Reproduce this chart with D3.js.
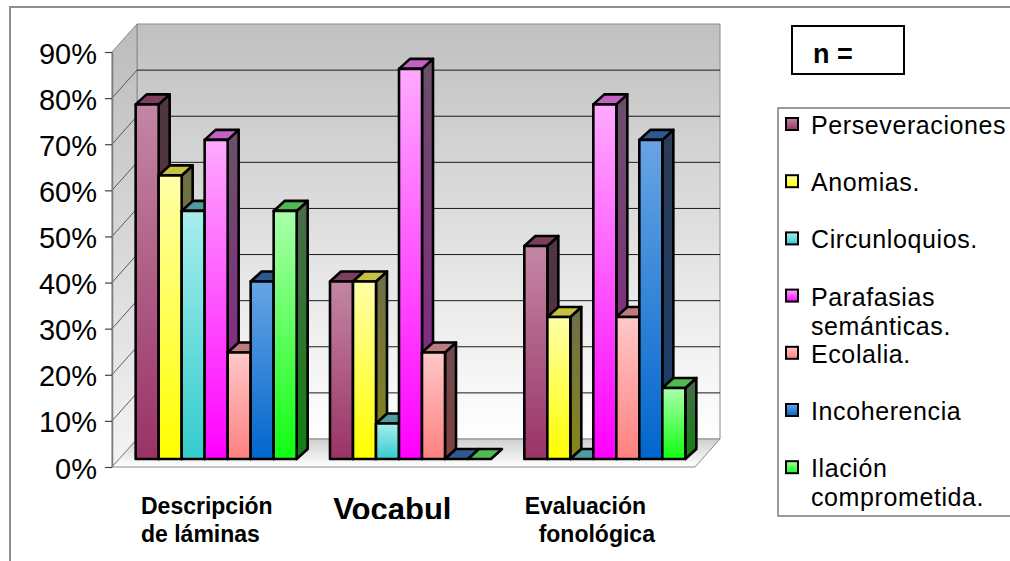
<!DOCTYPE html>
<html>
<head>
<meta charset="utf-8">
<script src="https://cdn.jsdelivr.net/npm/d3@7"></script>
<style>
  body { margin: 0; background: #ffffff; }
  svg { display: block; font-family: "Liberation Sans", Arial, sans-serif; }
</style>
</head>
<body>
<svg id="chart" width="1010" height="561"></svg>
<script>
// ---- data ----------------------------------------------------------------
const categories = ["Descripción de láminas", "Vocabul", "Evaluación fonológica"];
const categoryLines = [["Descripción", "de láminas"], ["Vocabul"], ["Evaluación", "fonológica"]];
const seriesNames = ["Perseveraciones", "Anomias.", "Circunloquios.", "Parafasias semánticas.",
                     "Ecolalia.", "Incoherencia", "Ilación comprometida."];
const legendLines = [["Perseveraciones"], ["Anomias."], ["Circunloquios."], ["Parafasias", "semánticas."],
                     ["Ecolalia."], ["Incoherencia"], ["Ilación", "comprometida."]];

// percentage of cases per category
const perseveraciones = [76.9, 38.5, 46.2];
const anomias         = [61.5, 38.5, 30.8];
const circunloquios   = [53.8,  7.7,  0.0];
const parafasias      = [69.2, 84.6, 76.9];
const ecolalia        = [23.1, 23.1, 30.8];
const incoherencia    = [38.5,  0.0, 69.2];
const ilacion         = [53.8,  0.0, 15.4];

const yTicks = [0, 10, 20, 30, 40, 50, 60, 70, 80, 90];
const yTickLabels = ["0%", "10%", "20%", "30%", "40%", "50%", "60%", "70%", "80%", "90%"];

const seriesValues = [perseveraciones, anomias, circunloquios, parafasias, ecolalia, incoherencia, ilacion];

// face colours: front gradient (top, bottom), side gradient (top, bottom), top face
const palette = [
  { front: ["#c486a4", "#993366"], side: ["#4d3841", "#5a2740"], top: "#7d3f5d" },
  { front: ["#ffffa8", "#ffff00"], side: ["#6e6e48", "#86861a"], top: "#c8c040" },
  { front: ["#a8eeee", "#33cccc"], side: ["#356e6e", "#2a7a7a"], top: "#4f9c9c" },
  { front: ["#ffaaff", "#ff00ff"], side: ["#6a5068", "#8c1e8c"], top: "#c462c4" },
  { front: ["#ffc8c8", "#ff8080"], side: ["#6e4c4c", "#804040"], top: "#c07c7c" },
  { front: ["#68a4e4", "#0066cc"], side: ["#2c3c52", "#1a3c70"], top: "#2c5a90" },
  { front: ["#aaffaa", "#10ff10"], side: ["#4c6a4c", "#108010"], top: "#52b852" }
];

// ---- layout ----------------------------------------------------------------
const svg = d3.select("#chart");
const axisX = 112;
const floorRight = 695;
const wallDepth = { x: 25, y: -28 };   // projection of the chart depth
const barShift = { x: 7, y: -8 };      // bars sit a little behind the front edge
const barDepth = { x: 11, y: -10 };    // projected depth of a single bar

const y = d3.scaleLinear().domain([0, 90]).range([467, 52]);
const x0 = d3.scaleBand().domain(categories).range([axisX, floorRight]);
const groupWidth = 161;
const x1 = d3.scaleBand().domain(seriesNames).range([0, groupWidth]);
const groupOffset = (x0.bandwidth() - groupWidth) / 2;

const defs = svg.append("defs");
function vGrad(id, stops) {
  const g = defs.append("linearGradient").attr("id", id)
    .attr("x1", 0).attr("y1", 0).attr("x2", 0).attr("y2", 1);
  stops.forEach(([o, c]) => g.append("stop").attr("offset", o).attr("stop-color", c));
}
vGrad("backWall", [[0, "#c0c0c0"], [1, "#ffffff"]]);
vGrad("leftWall", [[0, "#bcbcbc"], [1, "#f4f4f4"]]);
vGrad("floor", [[0, "#cfcfcf"], [1, "#ffffff"]]);
palette.forEach((p, i) => {
  vGrad("front" + i, [[0, p.front[0]], [1, p.front[1]]]);
  vGrad("side" + i, [[0, p.side[0]], [1, p.side[1]]]);
});

// ---- outer frame -----------------------------------------------------------
svg.append("path").attr("d", "M10,561 L10,7 L1010,7")
  .attr("fill", "none").attr("stroke", "#8e8e8e").attr("stroke-width", 2);

// ---- walls and floor ---------------------------------------------------------
const top90 = y(90), base0 = y(0);
const bx = axisX + wallDepth.x;
const bxr = floorRight + wallDepth.x;
const line = d3.line();

svg.append("path")
  .attr("d", line([[bx, top90 + wallDepth.y], [bxr, top90 + wallDepth.y], [bxr, base0 + wallDepth.y], [bx, base0 + wallDepth.y]]) + "Z")
  .attr("fill", "url(#backWall)").attr("stroke", "#8a8a8a").attr("stroke-width", 1);

svg.append("path")
  .attr("d", line([[axisX, top90], [bx, top90 + wallDepth.y], [bx, base0 + wallDepth.y], [axisX, base0]]) + "Z")
  .attr("fill", "url(#leftWall)").attr("stroke", "#8a8a8a").attr("stroke-width", 1);

svg.append("path")
  .attr("d", line([[axisX, base0], [floorRight, base0], [bxr, base0 + wallDepth.y], [bx, base0 + wallDepth.y]]) + "Z")
  .attr("fill", "url(#floor)").attr("stroke", "#8a8a8a").attr("stroke-width", 1);

// gridlines on the back wall and their diagonals on the side wall
const inner = yTicks.filter(v => v > 0 && v < 90);
svg.append("g").selectAll("line.grid").data(inner).join("line")
  .attr("x1", bx).attr("x2", bxr)
  .attr("y1", d => y(d) + wallDepth.y).attr("y2", d => y(d) + wallDepth.y)
  .attr("stroke", "#1a1a1a").attr("stroke-width", 1);
svg.append("g").selectAll("line.diag").data(inner).join("line")
  .attr("x1", axisX).attr("y1", d => y(d))
  .attr("x2", bx).attr("y2", d => y(d) + wallDepth.y)
  .attr("stroke", "#3a3a3a").attr("stroke-width", 0.8);

// ---- value axis ----------------------------------------------------------------
const yAxis = d3.axisLeft(y).tickValues(yTicks)
  .tickFormat((d, i) => yTickLabels[i]).tickSize(7).tickSizeOuter(0).tickPadding(8);
const ga = svg.append("g").attr("transform", `translate(${axisX},0)`).call(yAxis);
ga.select(".domain").attr("stroke", "#7a7a7a").attr("stroke-width", 1.5);
ga.selectAll(".tick line").attr("stroke", "#444").attr("stroke-width", 1.2);
ga.selectAll(".tick text").attr("font-size", 29).attr("fill", "#000")
  .attr("dy", "0.38em").style("font-family", "'Liberation Sans', Arial, sans-serif");

// ---- 3D bars -------------------------------------------------------------------
const bars = svg.append("g");
categories.forEach((cat, ci) => {
  seriesNames.forEach((name, si) => {
    const v = seriesValues[si][ci];
    const xl = x0(cat) + groupOffset + x1(name) + barShift.x;
    const xr = xl + x1.bandwidth();
    const yb = y(0) + barShift.y;
    const yt = y(v) + barShift.y;
    const dx = barDepth.x, dy = barDepth.y;
    const g = bars.append("g")
      .attr("stroke", "#000").attr("stroke-width", 2.6).attr("stroke-linejoin", "round");
    if (v > 0) {
      g.append("path")
        .attr("d", line([[xr, yt], [xr + dx, yt + dy], [xr + dx, yb + dy], [xr, yb]]) + "Z")
        .attr("fill", `url(#side${si})`);
    }
    g.append("path")
      .attr("d", line([[xl, yt], [xl + dx, yt + dy], [xr + dx, yt + dy], [xr, yt]]) + "Z")
      .attr("fill", palette[si].top);
    if (v > 0) {
      g.append("rect")
        .attr("x", xl).attr("y", yt).attr("width", xr - xl).attr("height", yb - yt)
        .attr("fill", `url(#front${si})`);
    }
  });
});

// ---- category labels -------------------------------------------------------
defs.append("clipPath").attr("id", "labelClip")
  .append("rect").attr("x", 0).attr("y", 0).attr("width", 1010).attr("height", 519);

const labelLayout = [
  { anchor: "start", dx: [29, 29], size: 23 },
  { anchor: "middle", dx: [86], size: 31 },
  { anchor: "start", dx: [24, 38], size: 23 }
];
const labels = svg.append("g").attr("font-weight", "bold").attr("fill", "#000");
categoryLines.forEach((lines, ci) => {
  const L = labelLayout[ci];
  lines.forEach((t, li) => {
    const tx = labels.append("text")
      .attr("x", x0(categories[ci]) + L.dx[li])
      .attr("y", lines.length === 1 ? 520 : 514 + li * 28)
      .attr("text-anchor", L.anchor)
      .attr("font-size", L.size)
      .text(t);
    if (lines.length === 1) tx.attr("clip-path", "url(#labelClip)");
  });
});

// ---- "n =" box -------------------------------------------------------------
svg.append("rect").attr("x", 792).attr("y", 26).attr("width", 112).attr("height", 48)
  .attr("fill", "#fff").attr("stroke", "#000").attr("stroke-width", 2);
svg.append("text").attr("x", 813).attr("y", 63).attr("font-size", 27)
  .attr("font-weight", "bold").text("n =");

// ---- legend ------------------------------------------------------------------
const legend = svg.append("g");
legend.append("rect").attr("x", 778).attr("y", 108).attr("width", 240).attr("height", 408)
  .attr("fill", "#fff").attr("stroke", "#7a7a7a").attr("stroke-width", 1.5);
legendLines.forEach((lines, i) => {
  const base = 134 + i * 57.2;
  legend.append("rect").attr("x", 786).attr("y", base - 16).attr("width", 12).attr("height", 12)
    .attr("fill", `url(#front${i})`).attr("stroke", "#000").attr("stroke-width", 2);
  lines.forEach((t, li) => {
    legend.append("text").attr("x", 811).attr("y", base + li * 29)
      .attr("font-size", 25).attr("letter-spacing", 0.6).attr("fill", "#000").text(t);
  });
});
</script>
</body>
</html>
